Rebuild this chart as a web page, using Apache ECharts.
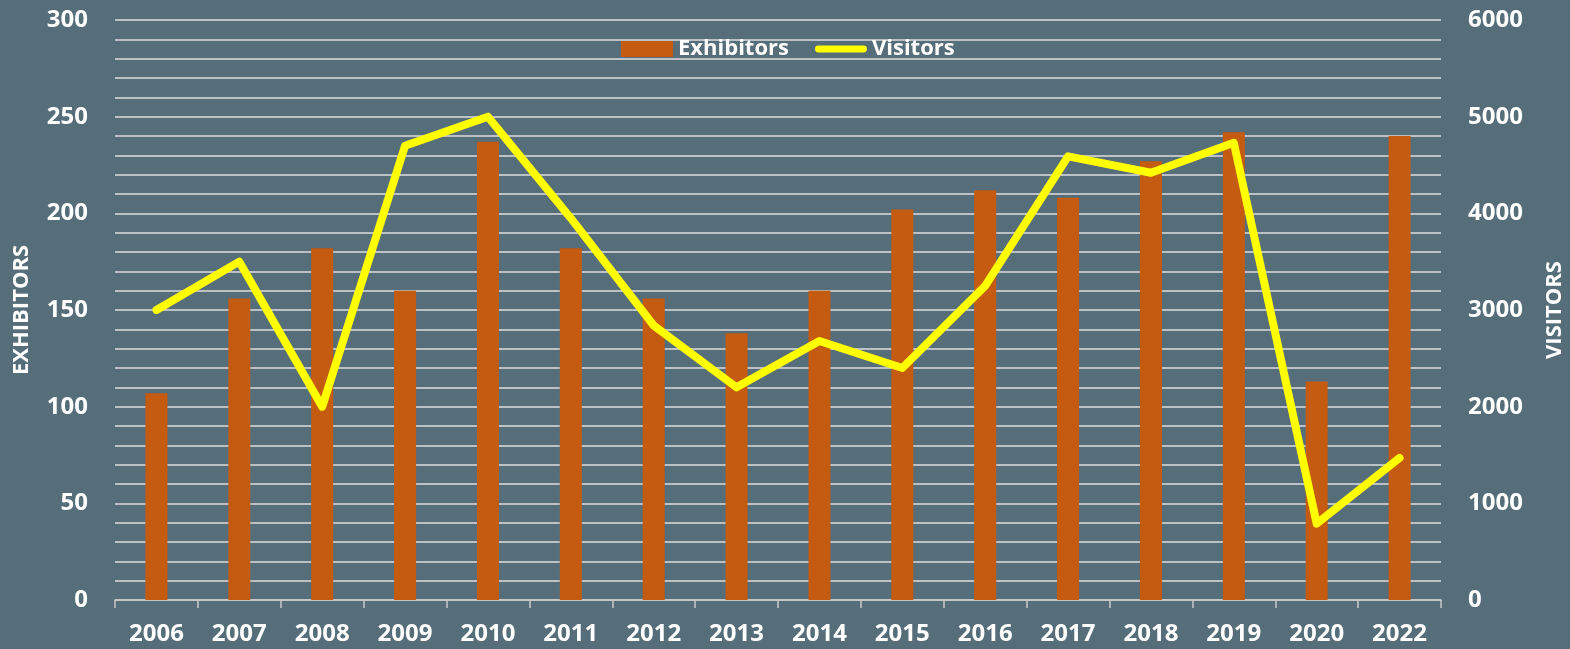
<!DOCTYPE html>
<html>
<head>
<meta charset="utf-8">
<script src="https://cdn.jsdelivr.net/npm/echarts@6/dist/echarts.min.js"></script>
<style>
  html, body { margin: 0; padding: 0; background: #566e7a; }
  #chart { width: 1570px; height: 649px; }
</style>
</head>
<body>
<div id="chart"></div>
<script>
const years = ['2006', '2007', '2008', '2009', '2010', '2011', '2012', '2013',
  '2014', '2015', '2016', '2017', '2018', '2019', '2020', '2022'];
const exhibitors = [107, 156, 182, 160, 237, 182, 156, 138, 160, 202, 212, 208, 227, 242, 113, 240];
const visitors = [3000, 3500, 2000, 4700, 5000, 3950, 2840, 2200, 2680, 2400, 3250, 4590, 4420, 4730, 790, 1470];

const font = '"Open Sans", "Noto Sans", sans-serif';
const labelStyle = { color: '#ffffff', fontSize: 24, fontWeight: 'bold', fontFamily: font };

const chart = echarts.init(document.getElementById('chart'), null, { renderer: 'canvas' });

const option = {
  backgroundColor: '#566e7a',
  animation: false,
  grid: { left: 115, right: 129, top: 20, bottom: 49, containLabel: false, outerBoundsMode: 'none' },
  legend: {
    left: 616, top: 33,
    itemWidth: 52, itemHeight: 16, itemGap: 26,
    textStyle: { color: '#ffffff', fontSize: 22, fontWeight: 'bold', fontFamily: font },
    data: [
      { name: 'Exhibitors', icon: 'rect' },
      { name: 'Visitors', icon: 'path://M4,0 L56,0 A4,4 0 0 1 56,8 L4,8 A4,4 0 0 1 4,0 Z' }
    ]
  },
  xAxis: {
    type: 'category',
    data: years,
    axisLine: { lineStyle: { color: '#c8c8c8', width: 1.5 } },
    axisTick: { show: true, length: 8, lineStyle: { color: '#c8c8c8', width: 1.5 } },
    axisLabel: { ...labelStyle, margin: 22 }
  },
  yAxis: [
    {
      type: 'value', min: 0, max: 300, interval: 10,
      name: 'EXHIBITORS', nameLocation: 'middle', nameGap: 82, nameRotate: 90,
      nameTextStyle: { color: '#ffffff', fontSize: 22, fontWeight: 'bold', fontFamily: font },
      axisLine: { show: false }, axisTick: { show: false },
      axisLabel: { ...labelStyle, margin: 27, formatter: v => (v % 50 === 0 ? String(v) : '') },
      splitLine: { show: true, lineStyle: { color: '#dedede', width: 1.5 } }
    },
    {
      type: 'value', min: 0, max: 6000, interval: 1000,
      name: 'VISITORS', nameLocation: 'middle', nameGap: 103, nameRotate: 90,
      nameTextStyle: { color: '#ffffff', fontSize: 22, fontWeight: 'bold', fontFamily: font },
      axisLine: { show: false }, axisTick: { show: false },
      axisLabel: { ...labelStyle, margin: 27, formatter: v => String(v) },
      splitLine: { show: false }
    }
  ],
  series: [
    {
      name: 'Exhibitors', type: 'bar', data: exhibitors, barWidth: 22,
      itemStyle: { color: '#c55a11' }, z: 2
    },
    {
      name: 'Visitors', type: 'line', yAxisIndex: 1, data: visitors,
      symbol: 'none', showSymbol: false,
      itemStyle: { color: '#ffff00' },
      lineStyle: { color: '#ffff00', width: 8, cap: 'round', join: 'round' }, z: 3
    }
  ]
};

chart.setOption(option);
</script>
</body>
</html>
